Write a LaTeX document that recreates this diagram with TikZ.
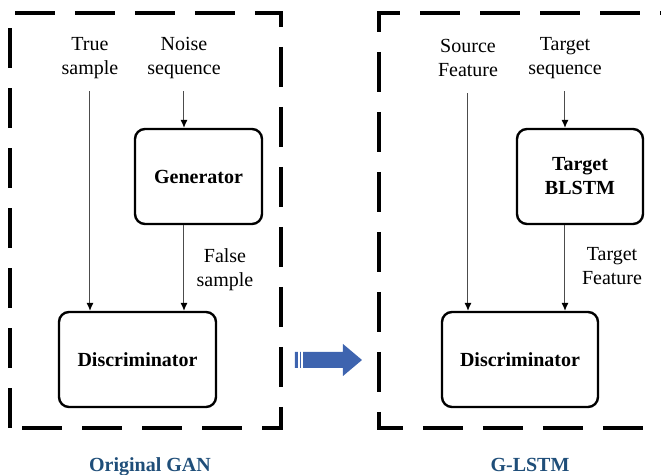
\documentclass[tikz,border=0pt]{standalone}
\usepackage{fontspec}
\setmainfont{Liberation Serif}
\usetikzlibrary{arrows.meta}
\tikzset{>={Latex[length=4pt,width=3.6pt,color=black]}}
\definecolor{arrowblue}{RGB}{62,100,175}
\definecolor{titleblue}{RGB}{31,78,121}
\tikzset{
  frame/.style={line width=1.6pt, dash pattern=on 20pt off 10pt},
  block/.style={draw, line width=1.2pt, rounded corners=5pt, minimum width=#1,
    minimum height=47.5pt, font=\bfseries, align=center},
  txt/.style={align=center, inner sep=0pt},
  feed/.style={draw=gray!60!black, line width=0.5pt, ->, shorten <=6pt},
  caption/.style={font=\bfseries, text=titleblue, inner sep=0pt, anchor=base}
}

\begin{document}
\begin{tikzpicture}[x=0.5pt, y=-0.5pt, font=\fontsize{10}{12}\selectfont]
    \clip (0,0) rectangle (661,475);

    % dashed frames
    \draw[frame] (10,428) -- (10,13) -- (281,13) -- (281,428) -- cycle;
    \draw[frame] (700,13) -- (379,13) -- (379,428) -- (700,428);

    % original GAN
    \node[txt] (true) at (90,58) {True\\sample};
    \node[txt] (noise) at (184,58) {Noise\\sequence};
    \node[block=63.5pt] (gen) at (198.5,176.5) {Generator};
    \node[block=78.5pt] (disc) at (137.5,359.5) {Discriminator};
    \node[txt] (false) at (225,270) {False\\sample};

    \draw[feed] (true) -- (true |- disc.north);
    \draw[feed] (noise) -- (noise |- gen.north);
    \draw[feed, shorten <=0pt] (noise |- gen.south) -- (noise |- disc.north);

    % G-LSTM
    \node[txt] (source) at (468,58) {Source\\Feature};
    \node[txt] (tseq) at (565,58) {Target\\sequence};
    \node[block=63pt] (blstm) at (580,176.5) {Target\\BLSTM};
    \node[block=78pt] (discr) at (520,359.5) {Discriminator};
    \node[txt] (tfeat) at (612,266) {Target\\Feature};

    \draw[feed, shorten <=8pt] (source) -- (source |- discr.north);
    \draw[feed] (tseq) -- (tseq |- blstm.north);
    \draw[feed, shorten <=0pt] (tseq |- blstm.south) -- (tseq |- discr.north);

    % block arrow
    \fill[arrowblue] (295,352) -- (343,352) -- (343,344) -- (362,360)
        -- (343,376) -- (343,368) -- (295,368) -- cycle;
    \draw[white, line width=0.6pt] (299,351) -- (299,369) (302,351) -- (302,369);

    \node[caption] (gan) at (150,472) {Original GAN};
    \node[caption] (glstm) at (530,472) {G-LSTM};
\end{tikzpicture}
\end{document}
